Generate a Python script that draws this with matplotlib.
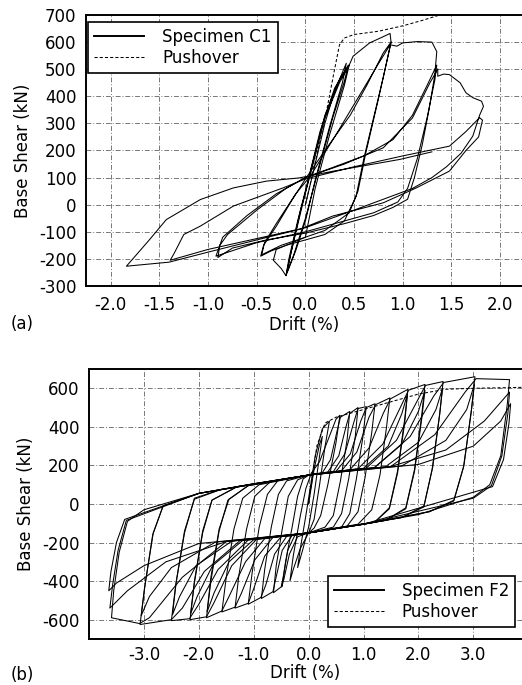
import matplotlib.pyplot as plt
from matplotlib.ticker import MultipleLocator

plt.rcParams['font.family'] = ['DejaVu Sans']
plt.rcParams['axes.unicode_minus'] = False

# ---- panel (a): specimen C1, drift (%) / base shear (kN) per cycle group ----
c1_cycle1 = [(0, 0), (0.1, 150), (0.2, 300), (0.3, 420), (0.42, 522), (0.38, 450), (0.25, 290),
             (0.1, 90), (0.0, -60), (-0.1, -170), (-0.2, -262), (-0.17, -200), (-0.08, -60),
             (0.02, 80), (0.15, 270), (0.3, 430), (0.44, 515), (0.4, 455), (0.28, 320),
             (0.12, 110), (0.0, -50), (-0.12, -185), (-0.19, -250), (-0.15, -180), (-0.05, -30),
             (0.05, 120), (0.2, 330), (0.35, 460), (0.45, 515), (0.4, 440), (0.25, 260),
             (0.1, 60), (0.0, -120), (-0.3, -165), (-0.33, -205), (-0.25, -235), (-0.2, -262),
             (-0.15, -180), (-0.05, -20), (0.05, 110), (0.2, 320), (0.35, 450), (0.45, 515)]
c1_cycle2 = [(0.45, 515), (0.49, 548), (0.66, 597), (0.8, 620), (0.87, 632), (0.88, 600),
             (0.8, 470), (0.7, 320), (0.6, 170), (0.52, 30), (0.4, -60), (0.2, -110), (0.0, -130),
             (-0.2, -150), (-0.35, -170), (-0.46, -190), (-0.43, -150), (-0.3, -80), (-0.15, 10),
             (0.0, 95), (0.2, 200), (0.46, 330), (0.63, 440), (0.8, 560), (0.88, 600),
             (0.85, 550), (0.75, 390), (0.62, 190), (0.54, 50), (0.45, -30), (0.2, -95),
             (0.0, -120), (-0.25, -150), (-0.45, -185), (-0.42, -140), (-0.3, -70), (-0.1, 40),
             (0.05, 105), (0.3, 250), (0.55, 400), (0.75, 520), (0.87, 590)]
c1_cycle3 = [(0.87, 590), (0.94, 585), (1.0, 597), (1.15, 602), (1.3, 600), (1.35, 565),
             (1.33, 480), (1.27, 350), (1.2, 220), (1.12, 100), (1.05, 20), (0.9, -10),
             (0.7, -40), (0.4, -70), (0.0, -105), (-0.4, -130), (-0.75, -160), (-0.9, -195),
             (-0.88, -150), (-0.8, -110), (-0.5, -20), (-0.2, 60), (0.0, 100), (0.3, 140),
             (0.6, 180), (0.9, 240), (1.1, 330), (1.25, 440), (1.35, 515), (1.33, 460),
             (1.25, 320), (1.15, 170), (1.05, 60), (0.95, 10), (0.7, -30), (0.3, -70),
             (0.0, -100), (-0.5, -140), (-0.92, -190), (-0.85, -120), (-0.6, -40), (-0.3, 40),
             (0.0, 100), (0.4, 150), (0.8, 210), (1.1, 320), (1.28, 450), (1.36, 500)]
c1_cycle4 = [(1.36, 500), (1.36, 474), (1.42, 482), (1.48, 480), (1.59, 450), (1.65, 413),
             (1.72, 395), (1.81, 382), (1.83, 363), (1.79, 330), (1.72, 253), (1.6, 190),
             (1.45, 140), (1.3, 100), (1.1, 60), (0.8, 20), (0.5, -20), (0.0, -85), (-0.5, -125),
             (-1.0, -165), (-1.39, -205), (-1.35, -180), (-1.25, -110), (-1.08, -79),
             (-0.74, -5), (-0.23, 62), (0.0, 95), (0.5, 140), (1.0, 180), (1.48, 216),
             (1.65, 270), (1.79, 321), (1.82, 312), (1.78, 250), (1.65, 200), (1.48, 124),
             (1.14, 62), (0.8, 7), (0.28, -42), (-0.06, -91), (-0.5, -130), (-1.0, -175),
             (-1.4, -212), (-1.84, -227), (-1.75, -190), (-1.6, -128), (-1.43, -55),
             (-1.08, 19), (-0.74, 62), (-0.40, 87), (-0.06, 99), (0.29, 124), (0.97, 167),
             (1.3, 195)]
c1_cycles = [c1_cycle1, c1_cycle2, c1_cycle3, c1_cycle4]

push_a_drift = [0, 0.1, 0.2, 0.3, 0.35, 0.4, 0.5, 0.75, 1.0, 1.2, 1.38, 2.3]
push_a_shear = [0, 155, 314, 500, 590, 615, 628, 640, 660, 680, 700, 705]

# ---- panel (b): specimen F2 ----
f2_loop1 = [(0, 0), (0.1, 180), (0.2, 310), (0.25, 350), (0.2, 250), (0.1, 50), (0.0, -120),
            (-0.1, -230), (-0.2, -330), (-0.15, -230), (-0.05, -60), (0.05, 120)]
f2_loop2 = [(0.05, 120), (0.12, 250), (0.25, 390), (0.38, 430), (0.3, 300), (0.2, 100),
            (0.1, -80), (0.0, -150), (-0.15, -230), (-0.28, -340), (-0.34, -400), (-0.28, -270),
            (-0.15, -60), (-0.05, 80), (0.05, 160)]
f2_loop3 = [(0.05, 160), (0.2, 220), (0.35, 330), (0.5, 440), (0.57, 460), (0.5, 320),
            (0.35, 100), (0.22, -60), (0.1, -125), (0.0, -150), (-0.2, -170), (-0.35, -260),
            (-0.45, -390), (-0.49, -430), (-0.42, -300), (-0.3, -120), (-0.2, 40), (-0.1, 130),
            (0.0, 150)]
f2_loop4 = [(0, 150), (0.25, 162), (0.4, 230), (0.52, 380), (0.58, 450), (0.75, 480),
            (0.7, 330), (0.58, 120), (0.45, -60), (0.3, -120), (0, -150), (-0.25, -162),
            (-0.38, -240), (-0.46, -380), (-0.5, -430), (-0.64, -460), (-0.59, -320),
            (-0.48, -130), (-0.37, 40), (-0.2, 125), (0, 150)]
f2_loop5 = [(0, 150), (0.35, 166), (0.55, 250), (0.68, 400), (0.75, 470), (0.9, 500),
            (0.85, 350), (0.73, 130), (0.6, -50), (0.45, -120), (0, -150), (-0.3, -163),
            (-0.48, -240), (-0.6, -390), (-0.65, -455), (-0.86, -490), (-0.8, -340),
            (-0.68, -120), (-0.55, 50), (-0.4, 120), (0, 150)]
f2_loop6 = [(0, 150), (0.45, 168), (0.66, 260), (0.82, 420), (0.9, 495), (1.05, 505),
            (0.99, 350), (0.87, 130), (0.75, -50), (0.6, -120), (0, -150), (-0.4, -168),
            (-0.62, -260), (-0.78, -420), (-0.87, -485), (-1.10, -520), (-1.03, -360),
            (-0.9, -120), (-0.75, 50), (-0.55, 125), (0, 150)]
f2_loop7 = [(0, 150), (0.5, 170), (0.76, 260), (0.95, 430), (1.05, 500), (1.21, 520),
            (1.15, 370), (1.03, 140), (0.9, -40), (0.7, -115), (0, -150), (-0.5, -170),
            (-0.8, -270), (-1.0, -440), (-1.1, -515), (-1.34, -540), (-1.27, -370),
            (-1.13, -130), (-0.98, 40), (-0.7, 115), (0, 150)]
f2_loop8 = [(0, 150), (0.6, 172), (0.88, 270), (1.1, 450), (1.22, 515), (1.48, 550),
            (1.42, 400), (1.3, 150), (1.15, -30), (0.9, -105), (0, -150), (-0.65, -173),
            (-0.98, -290), (-1.22, -460), (-1.34, -535), (-1.58, -560), (-1.5, -380),
            (-1.36, -130), (-1.2, 30), (-0.9, 100), (0, 150)]
f2_loop9 = [(0, 150), (0.75, 177), (1.1, 290), (1.36, 470), (1.49, 545), (1.81, 595),
            (1.75, 440), (1.62, 170), (1.47, -20), (1.2, -95), (0, -150), (-0.8, -180),
            (-1.15, -300), (-1.45, -480), (-1.58, -555), (-1.86, -590), (-1.78, -400),
            (-1.63, -140), (-1.47, 20), (-1.1, 95), (0, 150)]
f2_loop9b = [(0, 150), (1.0, 185), (1.45, 300), (1.7, 470), (1.8, 570), (1.75, 420),
             (1.62, 160), (1.47, -25), (1.2, -95), (0, -150), (-1.0, -185), (-1.45, -300),
             (-1.72, -460), (-1.85, -560), (-1.78, -380), (-1.63, -130), (-1.45, 25),
             (-1.1, 95), (0, 150)]
f2_loop10 = [(0, 150), (0.9, 183), (1.35, 310), (1.67, 500), (1.82, 590), (2.12, 620),
             (2.06, 460), (1.93, 180), (1.77, -20), (1.4, -85), (0, -150), (-0.95, -184),
             (-1.4, -320), (-1.72, -510), (-1.86, -585), (-2.16, -600), (-2.08, -410),
             (-1.93, -150), (-1.76, 20), (-1.3, 90), (0, 150)]
f2_loop10b = [(0, 150), (1.2, 189), (1.7, 310), (2.0, 480), (2.12, 590), (2.06, 440),
              (1.93, 170), (1.77, -25), (1.4, -85), (0, -150), (-1.2, -189), (-1.75, -320),
              (-2.03, -480), (-2.15, -570), (-2.08, -400), (-1.93, -140), (-1.76, 20),
              (-1.3, 90), (0, 150)]
f2_loop11 = [(0, 150), (1.05, 186), (1.6, 330), (1.97, 530), (2.13, 615), (2.45, 635),
             (2.39, 470), (2.26, 190), (2.1, -10), (1.7, -70), (0, -150), (-1.1, -187),
             (-1.65, -340), (-2.0, -520), (-2.17, -595), (-2.50, -605), (-2.42, -420),
             (-2.26, -150), (-2.08, 30), (-1.6, 75), (0, 150)]
f2_loop11b = [(0, 150), (1.4, 193), (2.0, 320), (2.32, 490), (2.44, 600), (2.38, 450),
              (2.25, 180), (2.1, -15), (1.7, -70), (0, -150), (-1.4, -193), (-2.05, -320),
              (-2.35, -480), (-2.48, -575), (-2.41, -400), (-2.26, -140), (-2.08, 25),
              (-1.6, 75), (0, 150)]
f2_loop12 = [(0, 150), (1.2, 189), (1.85, 350), (2.28, 560), (2.46, 630), (3.03, 660),
             (2.97, 500), (2.83, 200), (2.65, 20), (2.2, -40), (1.0, -105), (0, -150),
             (-1.25, -190), (-1.9, -350), (-2.3, -540), (-2.5, -600), (-3.07, -625),
             (-2.99, -440), (-2.84, -160), (-2.65, -10), (-2.0, 55), (-1.0, 105), (0, 150)]
f2_loop12b = [(0, 150), (1.7, 198), (2.5, 330), (2.88, 490), (3.02, 620), (2.96, 470),
              (2.82, 190), (2.64, 15), (2.2, -40), (1.0, -105), (0, -150), (-1.7, -198),
              (-2.5, -330), (-2.9, -480), (-3.05, -580), (-2.98, -420), (-2.83, -150),
              (-2.65, -10), (-2.0, 55), (0, 150)]
f2_loop13 = [(0, 150), (1.5, 195), (2.3, 360), (2.85, 580), (3.05, 650), (3.66, 645),
             (3.62, 520), (3.5, 250), (3.3, 100), (3.0, 35), (2.0, -55), (1.0, -105), (0, -150),
             (-1.5, -195), (-2.3, -380), (-2.9, -590), (-3.08, -620), (-3.59, -590),
             (-3.55, -450), (-3.45, -250), (-3.3, -90), (-3.0, -30), (-2.0, 55), (-1.0, 105),
             (0, 150)]
f2_loop14 = [(0, 150), (1.5, 195), (2.5, 280), (3.2, 430), (3.66, 580), (3.63, 470),
             (3.52, 250), (3.33, 95), (3.0, 30), (1.0, -105), (0, -150), (-1.5, -195),
             (-2.6, -300), (-3.3, -450), (-3.62, -540), (-3.57, -420), (-3.47, -240),
             (-3.32, -85), (-2.0, 55), (0, 150)]
f2_loop15 = [(0, 150), (2.0, 205), (3.0, 300), (3.5, 430), (3.68, 520), (3.65, 420),
             (3.55, 230), (3.35, 90), (1.0, -105), (0, -150), (-2.0, -205), (-3.0, -320),
             (-3.5, -410), (-3.64, -450), (-3.6, -350), (-3.5, -200), (-3.35, -80), (-2, 55),
             (0, 150)]
f2_cycles = [f2_loop1, f2_loop2, f2_loop3, f2_loop4, f2_loop5, f2_loop6, f2_loop7, f2_loop8,
             f2_loop9, f2_loop9b, f2_loop10, f2_loop10b, f2_loop11, f2_loop11b, f2_loop12,
             f2_loop12b, f2_loop13, f2_loop14, f2_loop15]

push_b_drift = [0, 0.15, 0.3, 0.5, 1.0, 1.5, 2.0, 2.5, 3.0, 3.9]
push_b_shear = [0, 300, 420, 450, 490, 530, 570, 595, 600, 605]

fig = plt.figure(figsize=(5.22, 6.85), dpi=100)
ax_a = fig.add_axes([0.165, 0.5825, 0.835, 0.3956])
ax_b = fig.add_axes([0.1705, 0.0672, 0.8295, 0.3941])

grid_style = dict(color='#777777', linewidth=0.7, linestyle=(0, (5, 2, 1, 2)))


def draw_panel(ax, cycles, pdrift, pshear, label):
    for cyc in cycles:
        xs = [p[0] for p in cyc]
        ys = [p[1] for p in cyc]
        ax.plot(xs, ys, color='black', linewidth=0.75)
    ax.plot([], [], color='black', linewidth=1.4, label=label)
    ax.plot(pdrift, pshear, color='black', linewidth=0.75, linestyle=(0, (3, 2)),
            label='Pushover')
    ax.grid(True, **grid_style)
    ax.set_axisbelow(True)
    ax.spines['right'].set_visible(False)
    for s in ['left', 'top', 'bottom']:
        ax.spines[s].set_linewidth(1.4)
    ax.tick_params(length=0, labelsize=12, pad=7)
    ax.set_ylabel('Base Shear (kN)', fontsize=12, labelpad=5)


legend_style = dict(fontsize=12, fancybox=False, edgecolor='black', framealpha=1,
                    handlelength=3.0, borderpad=0.35, labelspacing=0.2, handletextpad=1.1,
                    borderaxespad=0.0)

draw_panel(ax_a, c1_cycles, push_a_drift, push_a_shear, 'Specimen C1')
ax_a.set_xlim(-2.254, 2.226)
ax_a.set_ylim(-300, 700)
ax_a.xaxis.set_major_locator(MultipleLocator(0.5))
ax_a.yaxis.set_major_locator(MultipleLocator(100))
ax_a.xaxis.set_major_formatter(lambda v, p: '%.1f' % v)
ax_a.set_xlabel('Drift (%)', fontsize=12, labelpad=2)
leg = ax_a.legend(loc='upper left', bbox_to_anchor=(0.005, 0.974), **legend_style)
leg.get_frame().set_linewidth(1.2)
fig.text(0.02, 0.52, '(a)', fontsize=12)

draw_panel(ax_b, f2_cycles, push_b_drift, push_b_shear, 'Specimen F2')
ax_b.set_xlim(-4.0, 3.887)
ax_b.set_ylim(-700, 700)
ax_b.yaxis.set_major_locator(MultipleLocator(200))
ax_b.set_xticks([-3, -2, -1, 0, 1, 2, 3])
ax_b.xaxis.set_major_formatter(lambda v, p: '%.1f' % v)
ax_b.tick_params(axis='x', pad=5)
ax_b.set_xlabel('Drift (%)', fontsize=12, labelpad=0)
leg = ax_b.legend(loc='lower right', bbox_to_anchor=(0.984, 0.044), **legend_style)
leg.get_frame().set_linewidth(1.2)
fig.text(0.02, 0.008, '(b)', fontsize=12)

fig.savefig('out.png', dpi=100)
